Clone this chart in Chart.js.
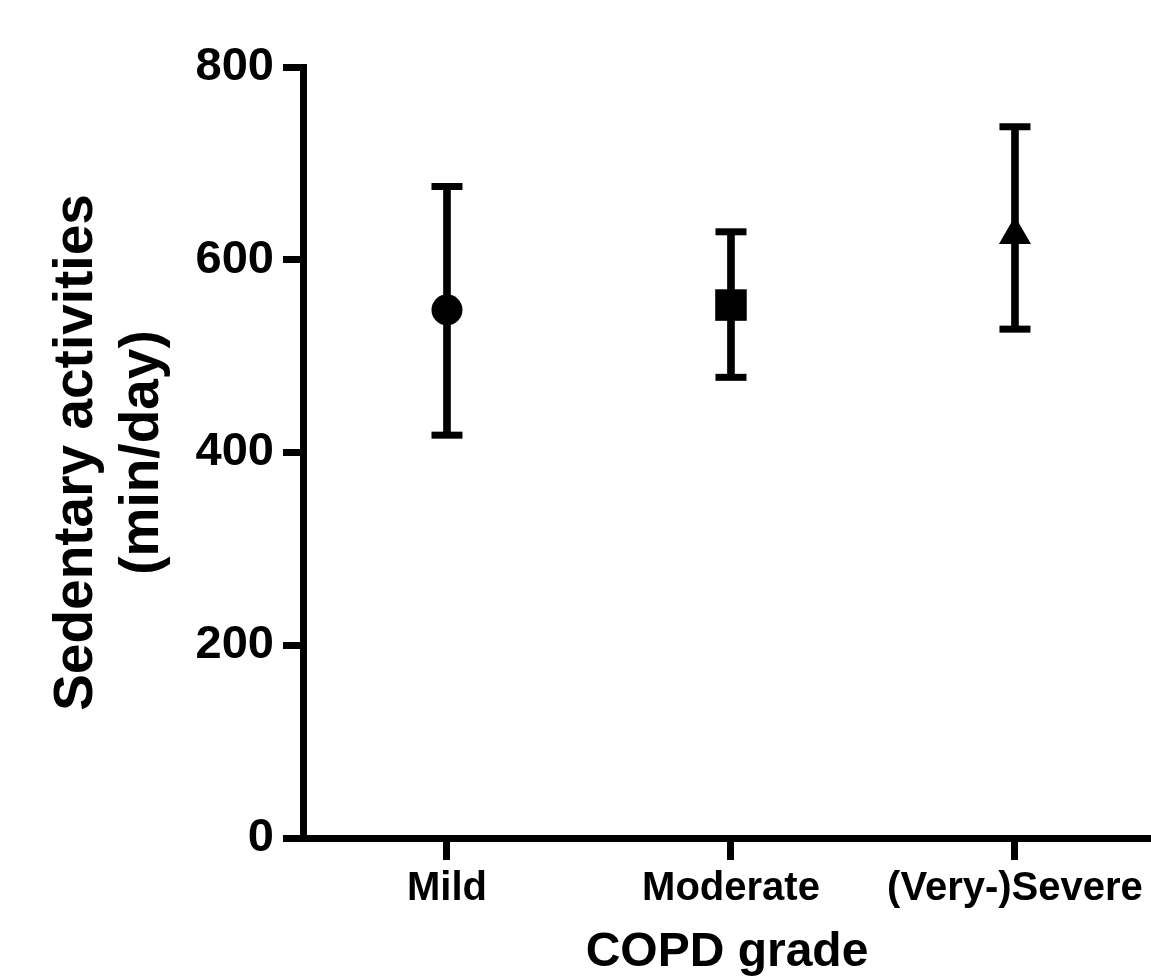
<!DOCTYPE html>
<html>
<head>
<meta charset="utf-8">
<script src="https://cdn.jsdelivr.net/npm/chart.js@4"></script>
<style>
  html, body { margin: 0; padding: 0; background: #fff; }
  #wrap { width: 1151px; height: 979px; }
</style>
</head>
<body>
<div id="wrap"><canvas id="copdChart" width="1151" height="979"></canvas></div>
<script>
// COPD grade vs sedentary time - mean with error bars
const categories = ['Mild', 'Moderate', '(Very-)Severe'];
const positions = [1, 2, 3];
const means = [548, 553, 626];
const upper = [676, 629, 738];
const lower = [418, 478, 528];
const yTicks = [0, 200, 400, 600, 800];
const markerStyles = ['circle', 'rect', 'triangle'];
const markerSizes = [15.5, 22.3, 18.5];

const FONT = "'Liberation Sans', Arial, Helvetica, sans-serif";

const ctx = document.getElementById('copdChart');
if (ctx) {
  new Chart(ctx, {
    type: 'scatter',
    data: {
      datasets: [
        {
          // mean markers
          type: 'scatter',
          order: 0,
          data: positions.map((x, i) => ({ x: x, y: means[i] })),
          pointStyle: markerStyles,
          pointRadius: markerSizes,
          pointBackgroundColor: '#000',
          pointBorderWidth: 0,
          clip: false
        },
        {
          // error bar caps
          type: 'scatter',
          order: 1,
          data: positions.map((x, i) => ({ x: x, y: upper[i] }))
            .concat(positions.map((x, i) => ({ x: x, y: lower[i] }))),
          pointStyle: 'line',
          pointRadius: 15.5,
          pointBorderColor: '#000',
          pointBorderWidth: 7,
          clip: false
        },
        {
          // error bar stems
          type: 'bar',
          order: 2,
          data: positions.map((x, i) => ({ x: x, y: [lower[i], upper[i]] })),
          backgroundColor: '#000',
          borderWidth: 0,
          barThickness: 7
        }
      ]
    },
    options: {
      responsive: false,
      animation: false,
      layout: { autoPadding: false, padding: { top: 67, right: 0, bottom: 0, left: 0 } },
      plugins: { legend: { display: false }, tooltip: { enabled: false } },
      scales: {
        x: {
          type: 'linear',
          min: 0.493,
          max: 3.479,
          offset: false,
          afterBuildTicks: (scale) => { scale.ticks = positions.map(v => ({ value: v })); },
          afterFit: (scale) => { scale.height = 141; scale.paddingLeft = 0; scale.paddingRight = 0; },
          border: { display: true, color: '#000', width: 7 },
          grid: { display: true, drawOnChartArea: false, drawTicks: true, tickLength: 22, tickWidth: 7, tickColor: '#000', offset: false },
          ticks: {
            color: '#000',
            padding: 5,
            maxRotation: 0,
            autoSkip: false,
            font: { family: FONT, size: 40, weight: 'bold', lineHeight: 1.2 },
            callback: (v, i) => categories[i]
          },
          title: {
            display: true,
            text: 'COPD grade',
            color: '#000',
            padding: 0,
            font: { family: FONT, size: 48, weight: 'bold', lineHeight: 1.1 }
          }
        },
        y: {
          min: 0,
          max: 800,
          afterBuildTicks: (scale) => { scale.ticks = yTicks.map(v => ({ value: v })); },
          afterFit: (scale) => { scale.width = 303; scale.paddingTop = 0; scale.paddingBottom = 0; },
          border: { display: true, color: '#000', width: 7 },
          grid: { display: true, drawOnChartArea: false, drawTicks: true, tickLength: 20, tickWidth: 7, tickColor: '#000' },
          ticks: {
            color: '#000',
            padding: 9,
            font: { family: FONT, size: 47, weight: 'bold' }
          },
          title: {
            display: true,
            text: ['Sedentary activities', '(min/day)'],
            color: '#000',
            padding: { top: 44, bottom: 0 },
            font: { family: FONT, size: 55, weight: 'bold', lineHeight: 1.2 }
          }
        }
      }
    }
  });
}
</script>
</body>
</html>
